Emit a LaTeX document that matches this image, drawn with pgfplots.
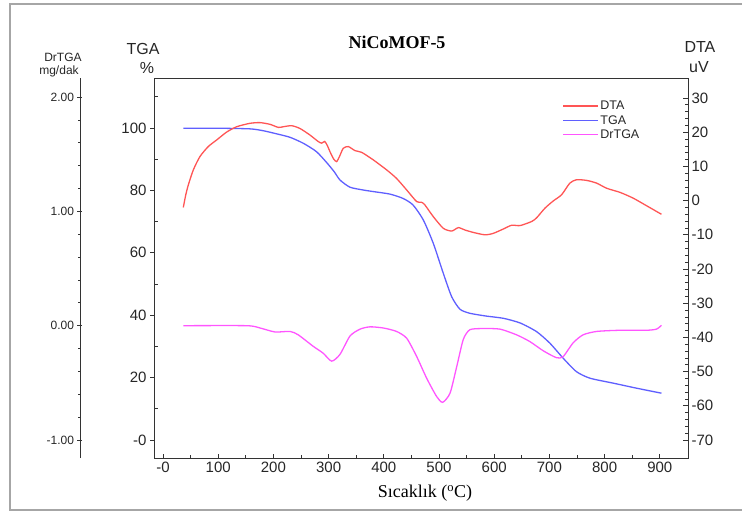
\documentclass[border=0pt]{standalone}
\usepackage{pgfplots}
\pgfplotsset{compat=1.18}
\usepackage{fontspec}
\setmainfont{Liberation Sans}
\newfontfamily\serif{Liberation Serif}
\definecolor{dtared}{RGB}{255,85,85}
\definecolor{tgablue}{RGB}{95,95,255}
\definecolor{drmag}{RGB}{255,85,255}
\newcommand{\fs}[1]{\fontsize{#1}{#1}\selectfont}

\pgfplotstableread{
T v
36.8 -2.0
41 1.5
45.9 4.6
55 9.0
67 12.9
82 15.8
97 17.7
115 20.0
133.5 21.6
157.6 22.6
175.7 22.8
193.8 22.3
209 21.4
218 21.6
233 21.9
248 21.1
266 19.2
281 17.3
287.5 16.8
293 17.3
298 16.0
302.5 14.3
309 12.2
314.6 11.4
320 13.0
326.6 15.3
335.7 15.8
348 14.6
360 14.1
381 11.9
405 9.0
423 6.5
441.5 3.1
459.6 -0.3
468.6 -0.5
474.6 -1.3
489.7 -4.7
507.8 -8.1
523 -8.9
535 -7.9
547 -8.6
562 -9.3
583 -10.0
598 -9.6
616.5 -8.3
631.7 -7.2
647 -7.3
668 -6.1
677 -5.0
692 -2.2
707 -0.1
722 1.7
737 5.1
749 6.1
767.6 5.9
785.7 5.1
803.8 3.6
828 2.4
852 0.7
876 -1.5
903 -4.0
}\dta

\pgfplotstableread{
T v
36.8 99.9
100 99.9
157.6 99.7
181.7 99.1
206 98.1
230 97.0
254 95.1
278 92.4
296.5 88.9
310 86.0
320.7 83.3
338.8 81.0
363 80.1
381 79.6
411 78.8
435 77.4
453 75.3
471.6 70.5
489.7 63.0
507.8 53.4
523 45.9
538 41.9
556 40.6
586 39.7
616.5 39.0
647 37.5
677 34.7
701 31.0
725 26.2
749 21.9
773.5 19.8
816 18.2
858 16.6
903 15.0
}\tga

\pgfplotstableread{
T v
36.8 0.00
151.6 0.00
175.7 -0.02
203 -0.055
230 -0.05
245 -0.08
272 -0.18
290 -0.24
305.6 -0.31
320.7 -0.25
338.8 -0.09
357 -0.03
375 -0.01
399 -0.02
423 -0.05
441.5 -0.11
459.6 -0.27
477.7 -0.46
495.8 -0.62
506.6 -0.67
520 -0.59
532 -0.36
544 -0.12
556 -0.035
580 -0.025
610.5 -0.03
640.6 -0.08
665 -0.14
689 -0.22
713 -0.28
725 -0.27
743 -0.15
761 -0.08
786 -0.05
828 -0.04
876 -0.04
894 -0.03
903 0.003
}\drtga

\begin{document}
\begin{tikzpicture}[x=1pt,y=1pt]
\useasboundingbox (0,0) rectangle (742,515);
\draw[gray!70, line width=1.3pt] (10,5) rectangle (770,511);

% box, x axis, TGA minor ticks
\begin{axis}[at={(154pt,57pt)}, anchor=south west, scale only axis,
  width=534pt, height=380pt,
  xmin=-16.3, xmax=951.1, ymin=-5.77, ymax=116,
  xtick={0,100,...,900},
  xticklabels={-0,100,200,300,400,500,600,700,800,900},
  minor xtick={50,150,...,850},
  ytick={10,30,...,110}, yticklabels={},
  xtick pos=left, ytick pos=left, tick align=inside,
  major tick length=4pt, minor tick length=3pt,
  axis line style={black!80, line width=0.8pt},
  tick style={black!80, line width=0.7pt},
  xticklabel style={font=\fs{15}, text=black!85},
]
\end{axis}

% TGA axis
\begin{axis}[at={(154pt,57pt)}, anchor=south west, scale only axis,
  width=534pt, height=380pt,
  xmin=-16.3, xmax=951.1, ymin=-5.77, ymax=116,
  axis x line=none, axis y line*=left,
  ytick={0,20,...,100}, yticklabels={-0,20,40,60,80,100},
  tick align=outside, major tick length=4pt,
  axis line style={black!80, line width=0.8pt},
  tick style={black!80, line width=0.7pt},
  yticklabel style={font=\fs{15}, text=black!85},
]
\addplot[tgablue, line width=1.3pt, smooth, tension=0.4] table[x=T,y=v]{\tga};
\end{axis}

% DTA axis
\begin{axis}[at={(154pt,57pt)}, anchor=south west, scale only axis,
  width=534pt, height=380pt,
  xmin=-16.3, xmax=951.1, ymin=-75.26, ymax=35.85,
  axis x line=none, axis y line*=right,
  ytick={-70,-60,...,30},
  yticklabels={-70,-60,-50,-40,-30,-20,-10,0,10,20,30},
  minor y tick num=4,
  tick align=inside, major tick length=5pt, minor tick length=3pt,
  axis line style={black!80, line width=0.8pt},
  tick style={black!80, line width=0.7pt},
  yticklabel style={font=\fs{15}, text=black!85},
]
\addplot[dtared, line width=1.3pt, smooth, tension=0.4] table[x=T,y=v]{\dta};
\end{axis}

% DrTGA axis
\begin{axis}[at={(80pt,57pt)}, anchor=south west, scale only axis,
  width=608pt, height=380pt,
  xmin=-150.4, xmax=951.1, ymin=-1.157, ymax=2.166,
  axis x line=none, axis y line*=left,
  ytick={-1,0,1,2}, yticklabels={-1.00,0.00,1.00,2.00},
  minor y tick num=4,
  tick align=center, major tick length=5pt, minor tick length=3pt,
  axis line style={black!80, line width=0.8pt},
  tick style={black!80, line width=0.7pt},
  yticklabel style={font=\fs{12}, text=black!85},
  legend style={at={(0.793,0.9435)}, anchor=north west, draw=none, fill=none,
    inner sep=0pt, font=\fs{12.5}, row sep=1pt, nodes={inner sep=1.5pt, text=black!85}},
  legend cell align=left,
  legend image code/.code={\draw[#1, line width=1.6pt] (0pt,0pt) -- (35pt,0pt);},
]
\addlegendimage{dtared}
\addlegendentry{DTA}
\addlegendimage{tgablue}
\addlegendentry{TGA}
\addplot[drmag, line width=1.3pt, smooth, tension=0.4] table[x=T,y=v]{\drtga};
\addlegendentry{DrTGA}
\end{axis}

% titles and labels
\node[font=\serif\bfseries\fs{18}] at (397,473) {NiCoMOF-5};
\node[font=\serif\fs{18}] at (425,22) {Sıcaklık (\textsuperscript{o}C)};
\node[font=\fs{12}, text=black!85] at (63,458) {DrTGA};
\node[font=\fs{12}, text=black!85] at (59,444) {mg/dak};
\node[font=\fs{16}, text=black!85] at (143,466) {TGA};
\node[font=\fs{16}, text=black!85] at (147,447) {\%};
\node[font=\fs{16}, text=black!85] at (700,468) {DTA};
\node[font=\fs{16}, text=black!85] at (699,448) {uV};
\end{tikzpicture}
\end{document}
